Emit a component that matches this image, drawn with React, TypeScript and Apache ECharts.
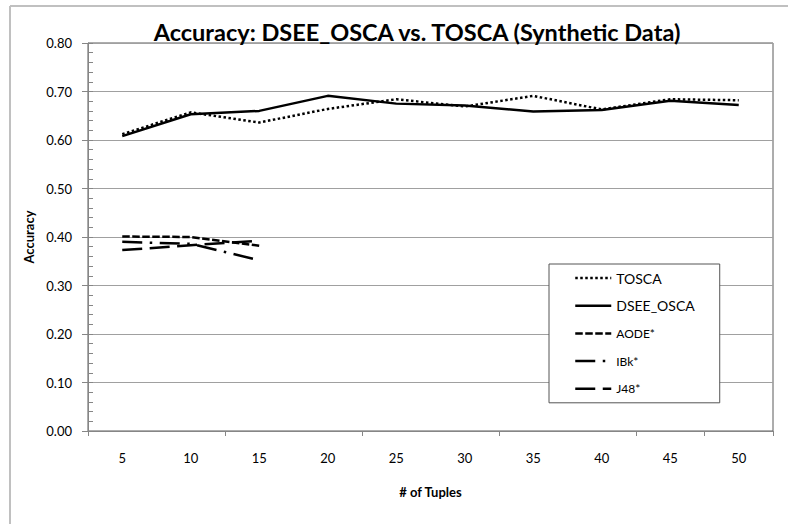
import React, { useEffect, useRef } from "react";
import * as echarts from "echarts";

// Number of tuples on the category axis
const tupleCounts = ["5", "10", "15", "20", "25", "30", "35", "40", "45", "50"];

// Accuracy per method
const toscaAcc = [0.612, 0.657, 0.636, 0.664, 0.684, 0.669, 0.691, 0.663, 0.684, 0.682];
const dseeOscaAcc = [0.608, 0.653, 0.66, 0.691, 0.675, 0.671, 0.659, 0.662, 0.681, 0.672];
const aodeAcc = [0.401, 0.4, 0.382];
const ibkAcc = [0.39, 0.386, 0.352];
const j48Acc = [0.373, 0.383, 0.392];

const yTicks = [0, 0.8, 0.1];

const FONT = "Lato, 'Liberation Sans', sans-serif";

export default function App() {
  const ref = useRef<HTMLDivElement>(null);

  useEffect(() => {
    if (!ref.current) return;
    const chart = echarts.init(ref.current, undefined, { renderer: "svg" });

    const mk = (name: string, data: number[], type: any) => ({
      name,
      type: "line",
      data,
      symbol: "none",
      lineStyle: { color: "#000", width: 2.5, type, cap: "butt" },
      itemStyle: { color: "#000" },
    });

    chart.setOption({
      animation: false,
      textStyle: { fontFamily: FONT },
      title: {
        text: "Accuracy: DSEE_OSCA vs. TOSCA (Synthetic Data)",
        left: 412,
        top: 15,
        textAlign: "center",
        textStyle: { fontFamily: FONT, fontSize: 23.5, fontWeight: "bold", color: "#000" },
      },
      graphic: [
        { type: "line", shape: { x1: 10, y1: 6, x2: 800, y2: 6 }, style: { stroke: "#c0c0c0", lineWidth: 2 } },
        { type: "line", shape: { x1: 10, y1: 6, x2: 10, y2: 530 }, style: { stroke: "#c0c0c0", lineWidth: 2 } },
      ],
      legend: {
        orient: "vertical",
        left: 549,
        top: 264,
        padding: [7, 25, 7, 25],
        itemGap: 13.7,
        itemWidth: 36,
        itemHeight: 14,
        itemTextGap: 3,
        borderColor: "#555",
        borderWidth: 1,
        backgroundColor: "#fff",
        itemStyle: { color: "rgba(0,0,0,0)", borderWidth: 0 },
        lineStyle: { color: "#000", width: 2.5 },
        data: [
          { name: "TOSCA", textStyle: { fontSize: 14, lineHeight: 14 } },
          { name: "DSEE_OSCA", textStyle: { fontSize: 14, lineHeight: 14 } },
          { name: "AODE*", textStyle: { fontSize: 12, lineHeight: 14 } },
          { name: "IBk*", textStyle: { fontSize: 12, lineHeight: 14 } },
          { name: "J48*", textStyle: { fontSize: 12, lineHeight: 14 } },
        ],
        textStyle: { color: "#000", fontFamily: FONT },
      },
      grid: {
        left: 88,
        top: 43,
        right: 15,
        bottom: 93,
        show: true,
        borderColor: "#5a5a5a",
        borderWidth: 1,
      },
      xAxis: {
        type: "category",
        data: tupleCounts,
        boundaryGap: true,
        name: "# of Tuples",
        nameLocation: "middle",
        nameGap: 54,
        nameTextStyle: { fontFamily: FONT, fontSize: 13, fontWeight: "bold", color: "#000" },
        axisLine: { lineStyle: { color: "#868686", width: 1 } },
        axisTick: { show: true, interval: 1, length: 5, lineStyle: { color: "#868686" } },
        axisLabel: { interval: 0, margin: 20, fontSize: 13, color: "#000", fontFamily: FONT },
        splitLine: { show: false },
      },
      yAxis: [
        {
          type: "value",
          min: yTicks[0],
          max: yTicks[1],
          interval: yTicks[2],
          name: "Accuracy",
          nameLocation: "middle",
          nameGap: 51,
          nameTextStyle: { fontFamily: FONT, fontSize: 13, fontWeight: "bold", color: "#000" },
          axisLine: { show: true, lineStyle: { color: "#868686", width: 1 } },
          axisTick: { show: true, length: 6, lineStyle: { color: "#868686" } },
          axisLabel: {
            margin: 16,
            fontSize: 13,
            color: "#000",
            fontFamily: FONT,
            formatter: (v: number) => v.toFixed(2),
          },
          splitLine: { show: true, lineStyle: { color: "#a0a0a0", width: 1 } },
        },
        {
          // inner minor ticks along the value axis
          type: "value",
          position: "left",
          min: yTicks[0],
          max: yTicks[1],
          interval: yTicks[2],
          axisLine: { show: false },
          axisLabel: { show: false },
          axisTick: { show: true, inside: true, length: 5, lineStyle: { color: "#868686" } },
          minorTick: { show: true, splitNumber: 5, length: 5, lineStyle: { color: "#868686" } },
          splitLine: { show: false },
        },
      ],
      series: [
        mk("TOSCA", toscaAcc, [2.5, 2.5]),
        mk("DSEE_OSCA", dseeOscaAcc, "solid"),
        mk("AODE*", aodeAcc, [7.5, 2.5]),
        mk("IBk*", ibkAcc, [20, 7.5, 2.5, 7.5]),
        mk("J48*", j48Acc, [20, 7.5]),
      ],
    });

    return () => chart.dispose();
  }, []);

  return (
    <div
      ref={ref}
      style={{ position: "fixed", left: 0, top: 0, width: 788, height: 524, background: "#fff" }}
    />
  );
}
